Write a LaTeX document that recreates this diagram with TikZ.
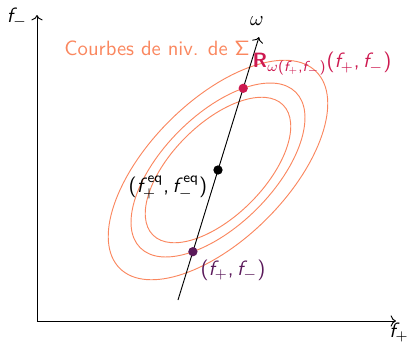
\documentclass[tikz,border=0pt]{standalone}
\usepackage{amsmath}
\usetikzlibrary{arrows.meta, intersections}
\renewcommand{\familydefault}{\sfdefault}
% sans serif math
\DeclareSymbolFont{sfletters}{OT1}{cmss}{m}{sl}
\DeclareSymbolFont{sfupright}{OT1}{cmss}{m}{n}
\DeclareMathSymbol{f}{\mathalpha}{sfletters}{`f}
\DeclareMathSymbol{\Sigma}{\mathalpha}{sfupright}{"06}
\DeclareMathSymbol{(}{\mathopen}{sfupright}{`(}
\DeclareMathSymbol{)}{\mathclose}{sfupright}{`)}
\DeclareMathSymbol{,}{\mathpunct}{sfupright}{`,}
\DeclareMathSymbol{+}{\mathbin}{sfupright}{`+}
\DeclareMathAlphabet{\mathsfb}{OT1}{cmss}{bx}{n}
\DeclareMathAlphabet{\mathsfr}{OT1}{cmss}{m}{n}
\definecolor{LvOrange}{RGB}{250,135,95}
\definecolor{LvRed}{RGB}{205,25,80}
\definecolor{LvPurple}{RGB}{90,25,90}

\begin{document}
\begin{tikzpicture}[x=0.017cm, y=0.017cm,
      ax/.style={->, line width=0.45pt},
      lvl/.style={draw=LvOrange, line width=0.45pt},
      pt/.style={circle, inner sep=0pt, minimum size=4.5pt}
    ]
    \useasboundingbox (0,0) rectangle (407,346);

    % axes
    \coordinate (O)    at (37,25);
    \coordinate (ytop) at (37,331);
    \coordinate (xend) at (396,25);
    \draw[ax] (O) -- (ytop);
    \draw[ax] (O) -- (xend);
    \node (fm) at (17,328) {$f_-$};
    \node (fp) at (399,13) {$f_+$};

    % level curves
    \coordinate (C) at (218,176);
    \foreach \a/\b in {139/69, 92/46}{
      \draw[lvl, rotate around={45:(C)}] (C) ellipse ({\a} and {\b});
    }
    \draw[lvl, name path=mid, rotate around={45:(C)}] (C) ellipse (110 and 55);

    % omega line
    \coordinate (wlo) at (178,46);
    \coordinate (whi) at (259,309);
    \draw[ax, name path=wline] (wlo) -- (whi);
    \node (om) at (257,325) {$\omega$};

    \path[name intersections={of=wline and mid, by={plo,phi}, sort by=wline}];
    \node[pt, fill=LvRed]    (rpt)  at (phi) {};
    \node[pt, fill=LvPurple] (ppt)  at (plo) {};
    \node[pt, fill=black]    (eqpt) at (C)   {};

    \node[text=LvOrange] (lvlab) at (157,298) {Courbes de niv. de $\Sigma$};
    \node[text=LvRed]    (rlab)  at (322,282) {$\mathsfb{R}_{\omega(f_+,f_-)}(f_+,f_-)$};
    \node                (eqlab) at (168,158) {$(f_+^{\mathsfr{eq}},f_-^{\mathsfr{eq}})$};
    \node[text=LvPurple] (plab)  at (233,76)  {$(f_+,f_-)$};
  \end{tikzpicture}
\end{document}
